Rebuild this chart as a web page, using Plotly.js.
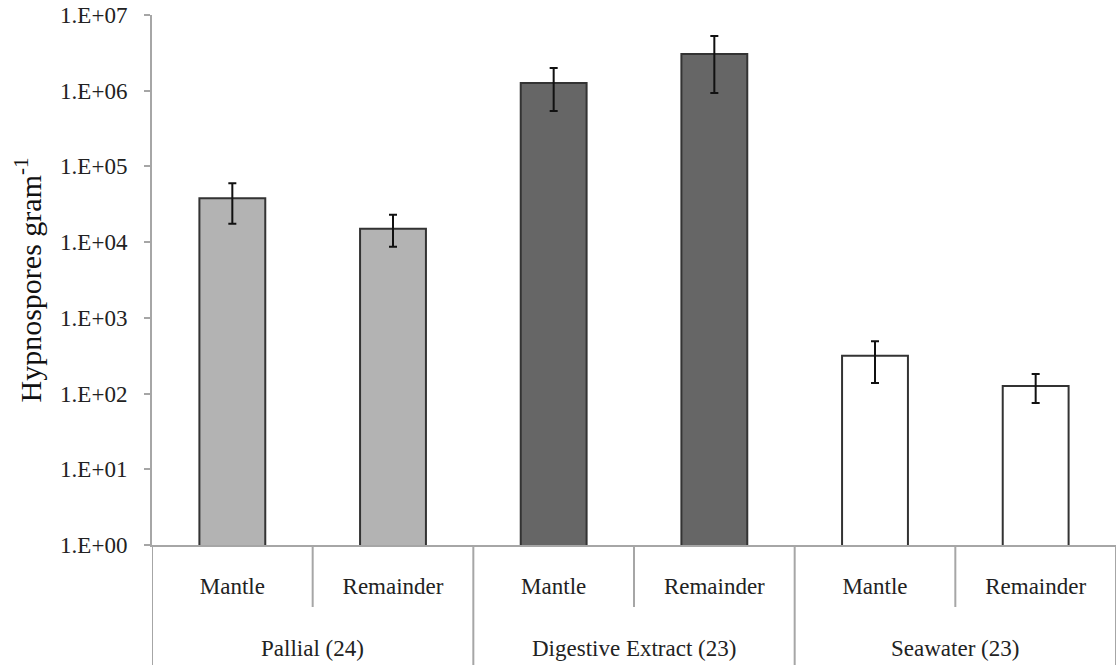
<!DOCTYPE html>
<html>
<head>
<meta charset="utf-8">
<script src="https://cdn.plot.ly/plotly-3.0.1.min.js"></script>
<style>
  html, body { margin: 0; padding: 0; background: #ffffff; }
  #chart { width: 1116px; height: 665px; }
</style>
</head>
<body>
<div id="chart"></div>
<script>
const groupNames = ["Pallial (24)", "Digestive Extract (23)", "Seawater (23)"];
const groups = ["Pallial (24)", "Pallial (24)", "Digestive Extract (23)", "Digestive Extract (23)", "Seawater (23)", "Seawater (23)"];
const parts = ["Mantle", "Remainder", "Mantle", "Remainder", "Mantle", "Remainder"];
const means = [38000, 15000, 1260000, 3050000, 315, 126];
const upper = [60000, 23000, 2000000, 5300000, 490, 182];
const lower = [17500, 8700, 540000, 930000, 138, 75];
const fills = ["#b3b3b3", "#b3b3b3", "#666666", "#666666", "#ffffff", "#ffffff"];
const yTickVals = [1, 10, 100, 1000, 10000, 100000, 1000000, 10000000];
const yTickText = ["1.E+00", "1.E+01", "1.E+02", "1.E+03", "1.E+04", "1.E+05", "1.E+06", "1.E+07"];

const idx = parts.map((_, i) => i);
const plus = means.map((m, i) => upper[i] - m);
const minus = means.map((m, i) => m - lower[i]);

const serif = "Liberation Serif, Times New Roman, serif";
const plotH = 665 - 15 - 120;
const axisGray = "#a6a6a6";

// group extents from the category arrays
const groupInfo = groupNames.map(g => {
  const members = idx.filter(i => groups[i] === g);
  return { name: g, first: Math.min(...members), last: Math.max(...members) };
});

const shapes = [];
// sub-category separators (within groups)
idx.slice(0, -1).forEach(i => {
  if (groups[i] === groups[i + 1]) {
    shapes.push({ type: "line", xref: "x", yref: "paper", x0: i + 0.5, x1: i + 0.5,
      y0: 0, y1: -62 / plotH, line: { color: axisGray, width: 2 } });
  }
});
// group separators
const bounds = [groupInfo[0].first - 0.5].concat(groupInfo.map(g => g.last + 0.5));
bounds.forEach(b => {
  shapes.push({ type: "line", xref: "x", yref: "paper", x0: b, x1: b,
    y0: 0, y1: -120 / plotH, line: { color: axisGray, width: 2 } });
});

const annotations = groupInfo.map(g => ({
  text: g.name, xref: "x", yref: "paper",
  x: (g.first + g.last) / 2, y: -103 / plotH,
  xanchor: "center", yanchor: "middle", showarrow: false,
  font: { family: serif, size: 23, color: "#222222" }
}));

const trace = {
  type: "bar",
  x: idx,
  y: means,
  width: 0.41,
  marker: { color: fills, line: { color: "#333333", width: 2 } },
  error_y: {
    type: "data", symmetric: false, array: plus, arrayminus: minus,
    color: "#111111", thickness: 2, width: 4
  },
  hoverinfo: "none"
};

const layout = {
  width: 1116, height: 665,
  margin: { l: 152, r: 0, t: 15, b: 120 },
  paper_bgcolor: "#ffffff", plot_bgcolor: "#ffffff",
  showlegend: false,
  font: { family: serif, color: "#222222", size: 23 },
  shapes: shapes,
  annotations: annotations,
  xaxis: {
    type: "linear", range: [-0.5, parts.length - 0.5],
    tickvals: idx, ticktext: parts,
    showline: true, linecolor: axisGray, linewidth: 2,
    ticks: "", ticklabelstandoff: 19,
    tickfont: { family: serif, size: 23, color: "#222222" },
    showgrid: false, zeroline: false
  },
  yaxis: {
    type: "log", range: [0, 7],
    tickvals: yTickVals, ticktext: yTickText,
    showline: true, linecolor: axisGray, linewidth: 2,
    ticks: "outside", ticklen: 6, tickcolor: axisGray, tickwidth: 2,
    ticklabelstandoff: 12,
    tickfont: { family: serif, size: 23, color: "#222222" },
    showgrid: false, zeroline: false,
    title: { text: "Hypnospores gram<sup>-1</sup>", font: { family: serif, size: 30, color: "#111111" }, standoff: 10 }
  }
};

Plotly.newPlot("chart", [trace], layout, { displayModeBar: false, staticPlot: true });
</script>
</body>
</html>
